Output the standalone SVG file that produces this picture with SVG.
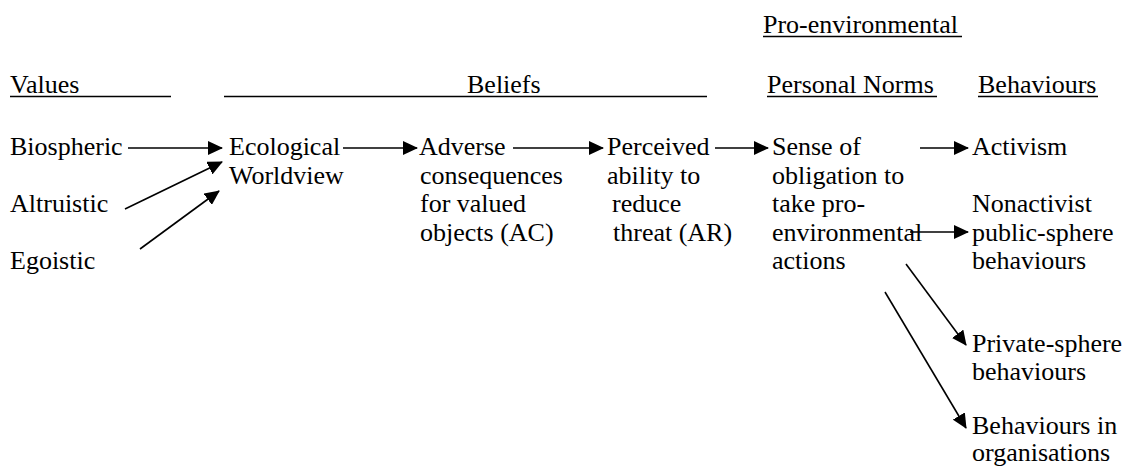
<svg xmlns="http://www.w3.org/2000/svg" width="1130" height="466" viewBox="0 0 1130 466">
<style>
text{font-family:'Liberation Serif','Times New Roman',Times,serif;font-size:26px;fill:#000}
.ul{stroke:#000;stroke-width:1.6}
.c{stroke:#000;stroke-width:1.6;fill:none;marker-end:url(#ah)}
</style>
<defs>
<marker id="ah" viewBox="0 0 15 14" refX="14" refY="7" markerWidth="15" markerHeight="14" orient="auto" markerUnits="userSpaceOnUse">
<path d="M0,0 L15,7 L0,14 Z" fill="#000"/>
</marker>
</defs>
<rect width="1130" height="466" fill="#fff"/>
<g id="headers">
<text x="763" y="33">Pro-environmental</text>
<line class="ul" x1="763" y1="36.5" x2="962" y2="36.5"/>
<text x="10" y="93">Values</text>
<line class="ul" x1="10" y1="96.5" x2="171" y2="96.5"/>
<text x="467" y="93">Beliefs</text>
<line class="ul" x1="224" y1="96.5" x2="707" y2="96.5"/>
<text x="767" y="93">Personal Norms</text>
<line class="ul" x1="767" y1="96.5" x2="937" y2="96.5"/>
<text x="978" y="93">Behaviours</text>
<line class="ul" x1="978" y1="96.5" x2="1098" y2="96.5"/>
</g>
<g id="biospheric"><text x="10" y="155">Biospheric</text></g>
<g id="altruistic"><text x="10" y="212">Altruistic</text></g>
<g id="egoistic"><text x="10" y="269">Egoistic</text></g>
<g id="ecological"><text x="229" y="155">Ecological</text><text x="229" y="183.5">Worldview</text></g>
<g id="adverse"><text x="419" y="155">Adverse</text><text x="420" y="183.5">consequences</text><text x="420" y="212">for valued</text><text x="420" y="240.5">objects (AC)</text></g>
<g id="perceived"><text x="607" y="155">Perceived</text><text x="607" y="183.5">ability to</text><text x="612" y="212">reduce</text><text x="613" y="240.5">threat (AR)</text></g>
<g id="sense"><text x="772" y="155">Sense of</text><text x="772" y="183.5">obligation to</text><text x="772" y="212">take pro-</text><text x="772" y="240.5">environmental</text><text x="772" y="269">actions</text></g>
<g id="activism"><text x="972" y="155">Activism</text></g>
<g id="nonactivist"><text x="972" y="212">Nonactivist</text><text x="972" y="240.5">public-sphere</text><text x="972" y="269">behaviours</text></g>
<g id="private"><text x="972" y="352">Private-sphere</text><text x="972" y="379.5">behaviours</text></g>
<g id="organisations"><text x="972" y="434">Behaviours in</text><text x="972" y="461">organisations</text></g>
<g id="connectors">
<line class="c" x1="128" y1="148" x2="222" y2="148"/>
<line class="c" x1="125" y1="209" x2="222" y2="162"/>
<line class="c" x1="140" y1="249" x2="219" y2="191"/>
<line class="c" x1="343" y1="148" x2="417" y2="148"/>
<line class="c" x1="513" y1="148" x2="603" y2="148"/>
<line class="c" x1="715" y1="148" x2="768" y2="148"/>
<line class="c" x1="920" y1="148" x2="968" y2="148"/>
<line class="c" x1="910" y1="232" x2="968" y2="232"/>
<line class="c" x1="906" y1="264" x2="966" y2="345"/>
<line class="c" x1="885" y1="292" x2="966" y2="428"/>
</g>
</svg>
